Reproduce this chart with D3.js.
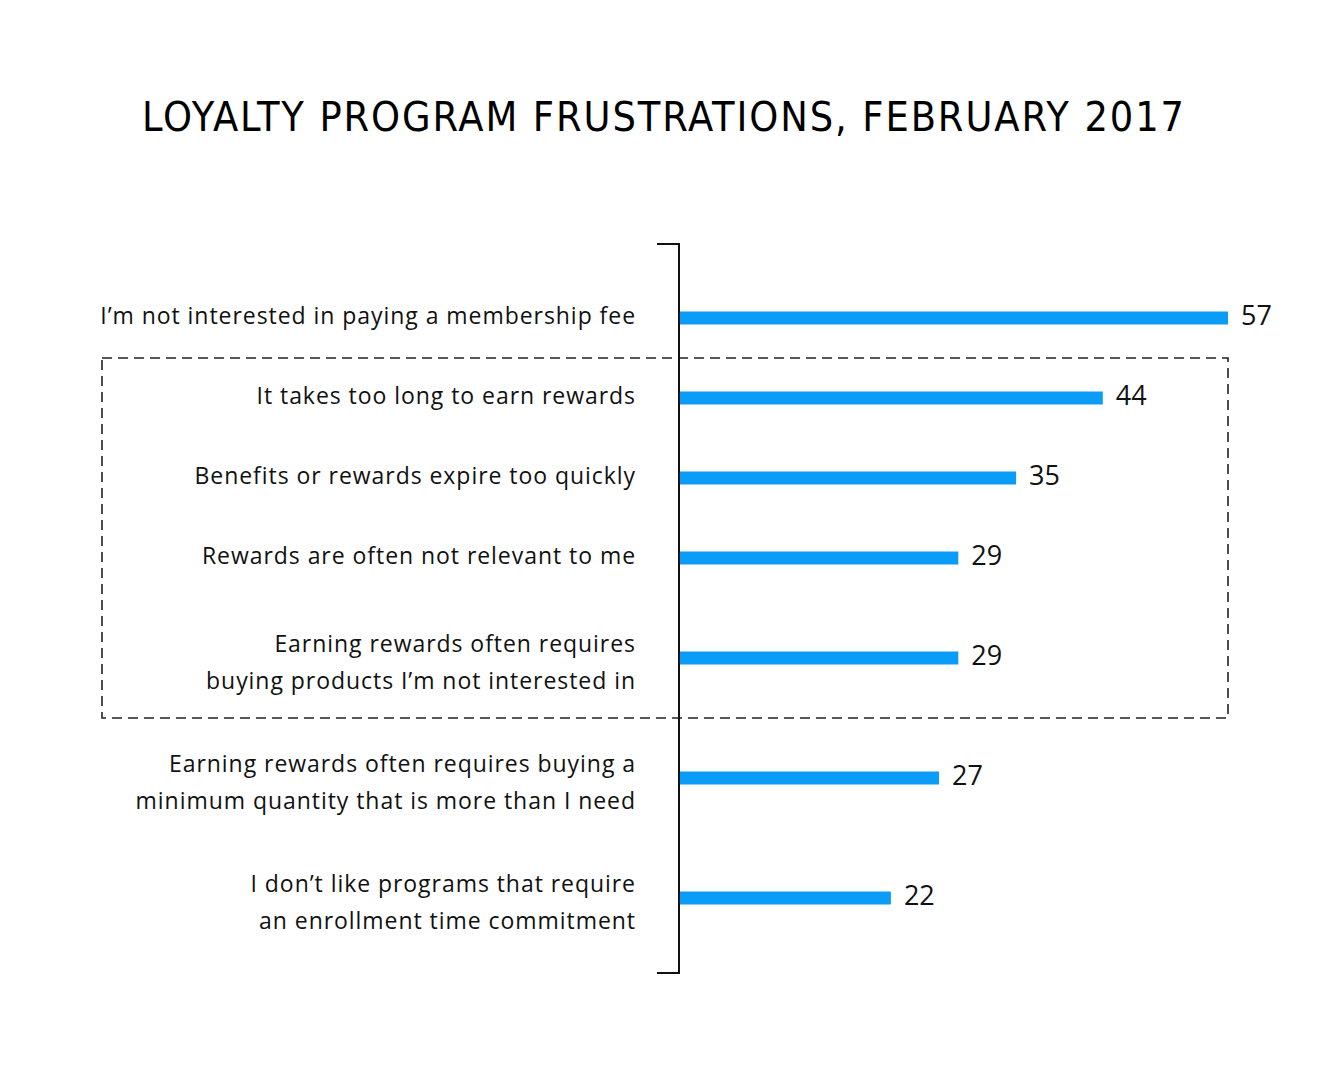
<!DOCTYPE html>
<html>
<head>
<meta charset="utf-8">
<script src="https://cdn.jsdelivr.net/npm/d3@7"></script>
<style>
  body { margin: 0; background: #fff; }
  svg { display: block; }
</style>
</head>
<body>
<svg id="chart"></svg>
<script>
const width = 1344;
const height = 1075;

// data
const categories = [
  ["I’m not interested in paying a membership fee"],
  ["It takes too long to earn rewards"],
  ["Benefits or rewards expire too quickly"],
  ["Rewards are often not relevant to me"],
  ["Earning rewards often requires", "buying products I’m not interested in"],
  ["Earning rewards often requires buying a", "minimum quantity that is more than I need"],
  ["I don’t like programs that require", "an enrollment time commitment"]
];
const values = [57, 44, 35, 29, 29, 27, 22];
const highlighted = [1, 2, 3, 4]; // rows inside the dashed box

const svg = d3.select("#chart")
  .attr("width", width)
  .attr("height", height);

// Title
svg.append("text")
  .attr("x", 663)
  .attr("y", 131)
  .attr("text-anchor", "middle")
  .attr("textLength", 1042)
  .attr("lengthAdjust", "spacing")
  .style("font-family", "'DejaVu Sans Condensed', 'Liberation Sans Narrow', 'Liberation Sans', sans-serif")
  .style("font-size", "41px")
  .style("fill", "#000")
  .text("LOYALTY PROGRAM FRUSTRATIONS, FEBRUARY 2017");

// row heights: one line rows take 2 units, two line rows take 3
const units = categories.map(c => c.length + 1);
const starts = d3.cumsum([0].concat(units.slice(0, -1)));
const totalUnits = d3.sum(units);
const rows = categories.map((c, i) => ({
  lines: c,
  value: values[i],
  start: starts[i],
  center: starts[i] + units[i] / 2,
  end: starts[i] + units[i]
}));

const y = d3.scaleLinear().domain([0, totalUnits]).range([278, 958]);
const x = d3.scaleLinear().domain([0, d3.max(values)]).range([679, 1228]);

// dashed box round the highlighted rows
const boxTop = y(rows[highlighted[0]].start);
const boxBottom = y(rows[highlighted[highlighted.length - 1]].end);
svg.append("rect")
  .attr("x", 102)
  .attr("y", boxTop)
  .attr("width", x(d3.max(values)) - 102)
  .attr("height", boxBottom - boxTop)
  .attr("fill", "none")
  .attr("stroke", "#222")
  .attr("stroke-width", 1.6)
  .attr("stroke-dasharray", "10,6");

// bars
svg.selectAll("rect.bar")
  .data(rows)
  .enter()
  .append("rect")
  .attr("class", "bar")
  .attr("x", x(0))
  .attr("y", d => y(d.center) - 6.5)
  .attr("width", d => x(d.value) - x(0))
  .attr("height", 13)
  .attr("fill", "#0a9cf7");

// axis bracket
svg.append("path")
  .attr("d", `M657,244 H679 V973 H657`)
  .attr("fill", "none")
  .attr("stroke", "#111")
  .attr("stroke-width", 2);

// value labels
svg.selectAll("text.value")
  .data(rows)
  .enter()
  .append("text")
  .attr("class", "value")
  .attr("x", d => x(d.value) + 13)
  .attr("y", d => y(d.center) + 7)
  .style("font-family", "'Open Sans', sans-serif")
  .style("font-size", "27px")
  .style("fill", "#111")
  .text(d => d.value);

// category labels
const labels = svg.selectAll("text.label")
  .data(rows)
  .enter()
  .append("text")
  .attr("class", "label")
  .attr("text-anchor", "end")
  .style("font-family", "'Open Sans', sans-serif")
  .style("font-size", "23px")
  .style("letter-spacing", "0.95px")
  .style("fill", "#111");

labels.selectAll("tspan")
  .data(d => d.lines.map((t, i) => ({ t, i, n: d.lines.length, c: d.center })))
  .enter()
  .append("tspan")
  .attr("x", 636)
  .attr("y", d => y(d.c) + 6 + (d.n - 1) * 6.5 + (d.i - (d.n - 1) / 2) * 37)
  .text(d => d.t);
</script>
</body>
</html>
